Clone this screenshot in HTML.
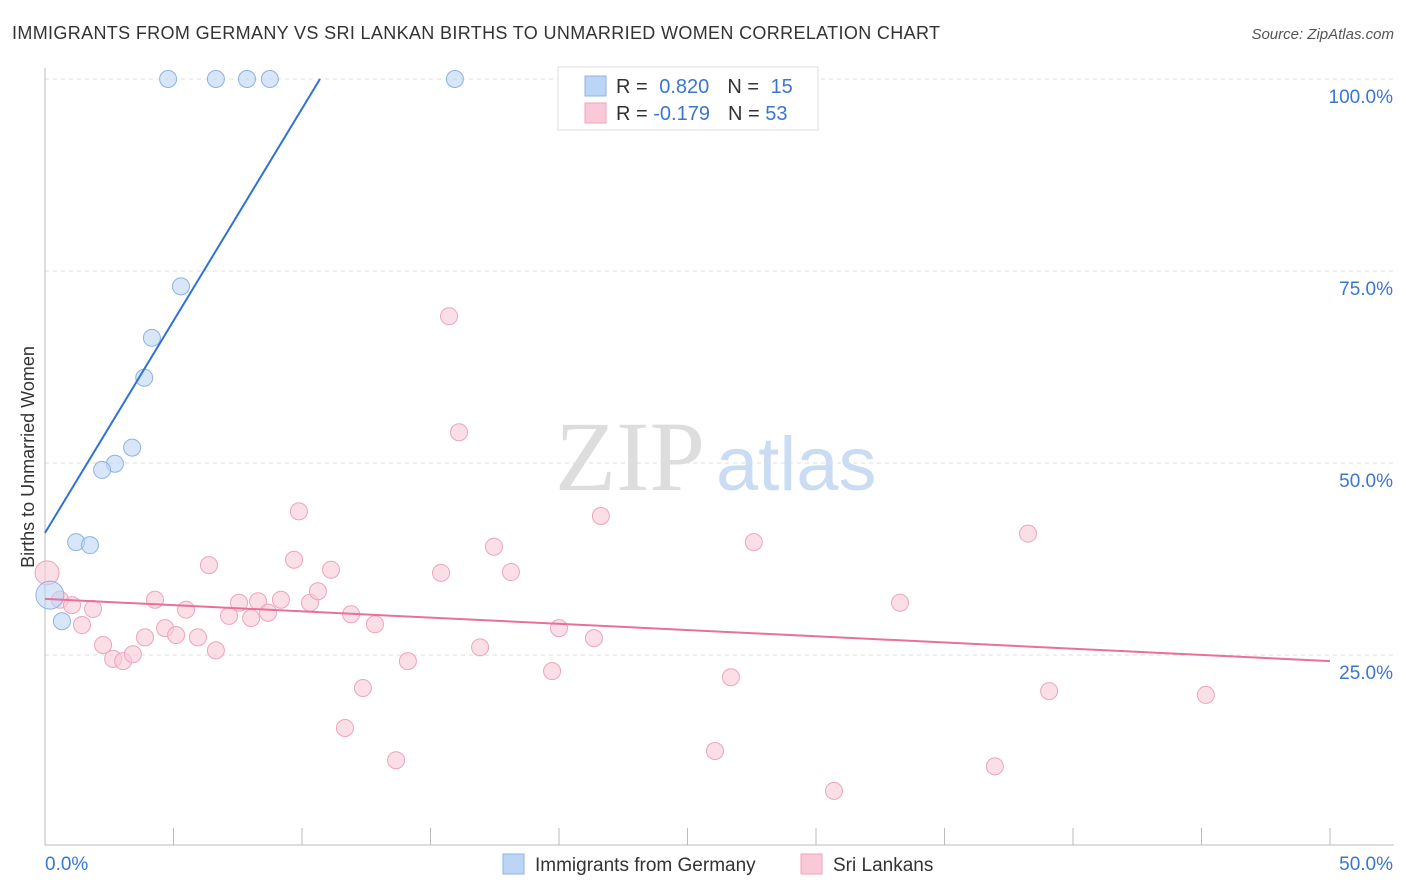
<!DOCTYPE html>
<html><head><meta charset="utf-8"><style>
body{margin:0;background:#fff;font-family:"Liberation Sans",sans-serif}
svg{display:block}
</style></head><body>
<svg id="c" width="1406" height="892" xmlns="http://www.w3.org/2000/svg">
<text x="12" y="39" font-size="18" fill="#333" textLength="928">IMMIGRANTS FROM GERMANY VS SRI LANKAN BIRTHS TO UNMARRIED WOMEN CORRELATION CHART</text>
<text x="1394" y="39" font-size="15" fill="#555" font-style="italic" text-anchor="end">Source: ZipAtlas.com</text>
<text x="34" y="457" font-size="18" fill="#333" text-anchor="middle" transform="rotate(-90 34 457)">Births to Unmarried Women</text>
<text x="555" y="490" font-size="100" fill="#ddd" font-family="Liberation Serif,serif">ZIP</text>
<text x="716" y="490" font-size="76" fill="#c9dcf3">atlas</text>
<g id="grid"></g><g id="marks"></g>
<g>
<rect x="558" y="67" width="260" height="63" fill="#fff" stroke="#ddd"/>
<rect x="585" y="76" width="21" height="20" fill="#bcd5f5" stroke="#8fb2e3"/>
<rect x="585" y="103" width="21" height="20" fill="#f9c9d7" stroke="#efa3bb"/>
<text x="616" y="93" font-size="20" fill="#333">R = <tspan fill="#3a76d0" dx="6">0.820</tspan><tspan dx="18" fill="#333">N = </tspan><tspan fill="#3a76d0" dx="6">15</tspan></text>
<text x="616" y="120" font-size="20" fill="#333">R = <tspan fill="#3a76d0">-0.179</tspan><tspan dx="18" fill="#333">N = </tspan><tspan fill="#3a76d0">53</tspan></text>
</g>
<g>
<rect x="503" y="854" width="21" height="20" fill="#bcd5f5" stroke="#8fb2e3"/>
<text x="535" y="871" font-size="19" fill="#333">Immigrants from Germany</text>
<rect x="801" y="854" width="21" height="20" fill="#f9c9d7" stroke="#efa3bb"/>
<text x="833" y="871" font-size="19" fill="#333">Sri Lankans</text>
</g>
</svg>
<script>
const yTicks=[100,75,50,25];
const yTickLabels=["100.0%","75.0%","50.0%","25.0%"];
const xTickLabels=["0.0%","50.0%"];
const blueX=[4.79,6.65,7.86,8.75,15.95,5.29,4.16,3.86,3.39,2.72,2.22,1.21,1.75,0.66,0.19];
const blueY=[100,100,100,100,100,73.0,66.3,61.1,52.0,49.9,49.1,39.7,39.3,29.4,32.8];
const pinkX=[0.08,0.58,1.05,1.44,1.87,2.26,2.65,3.04,3.42,3.89,4.28,4.67,5.10,5.49,5.95,6.38,6.65,7.16,7.55,8.02,8.29,8.68,9.18,9.69,9.88,10.31,10.62,11.13,11.91,12.37,11.67,12.84,13.66,14.12,15.41,15.72,16.11,16.93,17.47,18.13,19.73,20.00,21.36,21.63,26.07,26.69,27.58,30.70,33.27,36.96,38.25,39.07,45.17];
const pinkY=[35.7,32.2,31.5,28.9,31.0,26.3,24.5,24.2,25.1,27.3,32.2,28.5,27.6,30.9,27.3,36.7,25.6,30.1,31.8,29.8,32.0,30.5,32.2,37.4,43.7,31.8,33.3,36.1,30.3,20.7,15.5,29.0,11.3,24.2,35.7,69.1,54.0,26.0,39.1,35.8,22.9,28.5,27.2,43.1,12.5,22.1,39.7,7.3,31.8,10.5,40.8,20.3,19.8];
const blueLine=[[0,40.9],[10.7,100]];
const pinkLine=[[0,32.3],[50,24.2]];
const X=v=>45+v/50*1285, Y=v=>847-v/100*768;
const NS="http://www.w3.org/2000/svg";
function mk(t,a,p){const e=document.createElementNS(NS,t);for(const k in a)e.setAttribute(k,a[k]);p.appendChild(e);return e;}
const g=document.getElementById('grid'),m=document.getElementById('marks');
yTicks.forEach((t,i)=>{
 const l=mk('line',{x1:45,x2:1394,y1:Y(t),y2:Y(t),stroke:'#ddd','stroke-dasharray':'4,4'},g);
 
 
 const tx=mk('text',{x:1393,y:Y(t)+24,'font-size':19,fill:'#3a76d0','text-anchor':'end'},g);tx.textContent=yTickLabels[i];
 
 
});
const ax=mk('line',{x1:45,x2:1394,y1:845,y2:845,stroke:'#bbb'},g);


const ay=mk('line',{x1:45,x2:45,y1:68,y2:845,stroke:'#bbb'},g);


for(let i=0;i<=10;i++){const t=mk('line',{x1:X(i*5),x2:X(i*5),y1:828,y2:845,stroke:'#bbb'},g);
 
 }
const t0=mk('text',{x:45,y:870,'font-size':19,fill:'#3a76d0'},g);t0.textContent=xTickLabels[0];


const t1=mk('text',{x:1393,y:870,'font-size':19,fill:'#3a76d0','text-anchor':'end'},g);t1.textContent=xTickLabels[1];


pinkX.forEach((x,i)=>{const c=mk('circle',{cx:X(x),cy:Y(pinkY[i]),r:i==0?12:8.5,fill:'#f9c9d7','fill-opacity':0.6,stroke:'#efa3bb'},m);
 
 });
blueX.forEach((x,i)=>{const c=mk('circle',{cx:X(x),cy:Y(blueY[i]),r:i==14?14:8.5,fill:'#bcd5f5','fill-opacity':0.6,stroke:'#8fb2e3'},m);
 
 });
const bl=mk('line',{x1:X(blueLine[0][0]),y1:Y(blueLine[0][1]),x2:X(blueLine[1][0]),y2:Y(blueLine[1][1]),stroke:'#2f72d6','stroke-width':2},m);


const pl=mk('line',{x1:X(pinkLine[0][0]),y1:Y(pinkLine[0][1]),x2:X(pinkLine[1][0]),y2:Y(pinkLine[1][1]),stroke:'#e8709a','stroke-width':2},m);


</script>
</body></html>
